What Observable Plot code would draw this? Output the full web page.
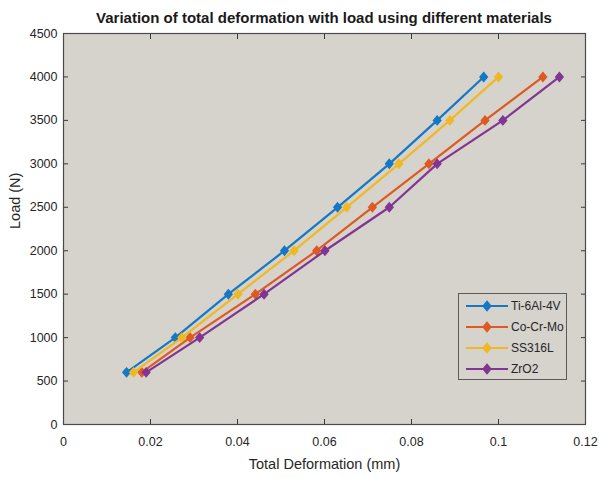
<!DOCTYPE html>
<html><head><meta charset="utf-8">
<script src="https://cdn.jsdelivr.net/npm/d3@7"></script>
<script src="https://cdn.jsdelivr.net/npm/@observablehq/plot@0.6"></script>
<style>
body{margin:0;background:#fff;font-family:"Liberation Sans",Arial,sans-serif;}
#wrap{position:relative;width:599px;height:478px;}
#title{height:30px;box-sizing:border-box;padding:10px 14px 0 63px;text-align:center;font-weight:bold;font-size:15px;color:#1a1a1a;line-height:15px;white-space:nowrap;}
#legend{position:absolute;left:458px;top:293px;width:109px;height:87px;border:1px solid #5a5a5a;background:#d6d2cc;box-sizing:border-box;padding-top:1px;}
.row{height:21px;display:flex;align-items:center;font-size:12px;color:#262626;}
.row svg{margin-left:6px;margin-right:3px;}
</style></head><body>
<div id="wrap">
<div id="title">Variation of total deformation with load using different materials</div>
<div id="chart"></div>
<div id="legend"></div>
</div>
<script>
const loads = [600, 1000, 1500, 2000, 2500, 3000, 3500, 4000];
const materials = ["Ti-6Al-4V", "Co-Cr-Mo", "SS316L", "ZrO2"];
const tiDef = [0.0145, 0.0257, 0.0379, 0.0508, 0.0630, 0.0749, 0.0859, 0.0966];
const coDef = [0.0180, 0.0291, 0.0441, 0.0582, 0.0710, 0.0840, 0.0969, 0.1102];
const ssDef = [0.0161, 0.0272, 0.0401, 0.0530, 0.0651, 0.0771, 0.0888, 0.1000];
const zrDef = [0.0190, 0.0313, 0.0461, 0.0601, 0.0749, 0.0859, 0.1010, 0.1140];
const colors = ["#1478c4", "#dd5a22", "#efb825", "#823592"];
const xTicks = [0, 0.02, 0.04, 0.06, 0.08, 0.1, 0.12];
const yTicks = [0, 500, 1000, 1500, 2000, 2500, 3000, 3500, 4000, 4500];

const series = [tiDef, coDef, ssDef, zrDef];
const rows = materials.flatMap((m, i) => loads.map((l, j) => ({material: m, load: l, def: series[i][j]})));

// MATLAB-like diamond marker (less elongated than d3's)
const matlabDiamond = {
  draw(context, size) {
    const h = Math.sqrt(size) * 0.72, w = h * 0.85;
    context.moveTo(0, -h); context.lineTo(w, 0); context.lineTo(0, h); context.lineTo(-w, 0); context.closePath();
  }
};

const tickColor = "#3a3a3a";
const seriesMarks = materials.flatMap(m => {
  const d = rows.filter(r => r.material === m);
  return [
    Plot.line(d, {x: "def", y: "load", stroke: "material", strokeWidth: 2.2}),
    Plot.dot(d, {x: "def", y: "load", symbol: matlabDiamond, fill: "material", stroke: "material", strokeWidth: 1.3, r: 3.5})
  ];
});
const blank = () => "";

const plot = Plot.plot({
  width: 599, height: 448,
  marginTop: 3, marginBottom: 54, marginLeft: 63, marginRight: 14,
  style: {background: "transparent", fontFamily: "Liberation Sans, Arial, sans-serif", fontSize: "12px", color: "#262626", overflow: "visible"},
  x: {domain: [0, 0.12], axis: null},
  y: {domain: [0, 4500], axis: null},
  color: {domain: materials, range: colors},
  marks: [
    Plot.frame({fill: "#d6d2cc"}),
    ...seriesMarks,
    Plot.axisX(xTicks, {anchor: "bottom", tickSize: 5, dy: -5, stroke: tickColor, tickFormat: blank, label: null}),
    Plot.axisX(xTicks, {anchor: "top", tickSize: 5, dy: 5, stroke: tickColor, tickFormat: blank, label: null}),
    Plot.axisY(yTicks, {anchor: "left", tickSize: 5, dx: 5, stroke: tickColor, tickFormat: blank, label: null}),
    Plot.axisY(yTicks, {anchor: "right", tickSize: 5, dx: -5, stroke: tickColor, tickFormat: blank, label: null}),
    Plot.axisX(xTicks, {anchor: "bottom", tickSize: 0, tickPadding: 13, tickFormat: d => String(d), fill: "#262626", fontSize: 12.5, label: null}),
    Plot.axisY(yTicks, {anchor: "left", tickSize: 0, tickPadding: 6, tickFormat: d => String(d), fill: "#262626", fontSize: 12.5, label: null}),
    Plot.frame({stroke: "#4a4a4a", strokeWidth: 1.2}),
    Plot.text(["Total Deformation (mm)"], {frameAnchor: "bottom", dy: 44, fontSize: 14.5, fill: "#262626"}),
    Plot.text(["Load (N)"], {frameAnchor: "left", dx: -48, rotate: -90, fontSize: 14.5, fill: "#262626"})
  ]
});
document.getElementById("chart").appendChild(plot);

const legend = document.getElementById("legend");
materials.forEach((m, i) => {
  const row = document.createElement("div");
  row.className = "row";
  row.innerHTML = `<svg width="43" height="12"><line x1="1" y1="6" x2="43" y2="6" stroke="${colors[i]}" stroke-width="2.2"/><path d="M22,1.2L26,6L22,10.8L18,6Z" fill="${colors[i]}" stroke="${colors[i]}" stroke-width="1.2"/></svg><span>${m}</span>`;
  legend.appendChild(row);
});
</script>
</body></html>
